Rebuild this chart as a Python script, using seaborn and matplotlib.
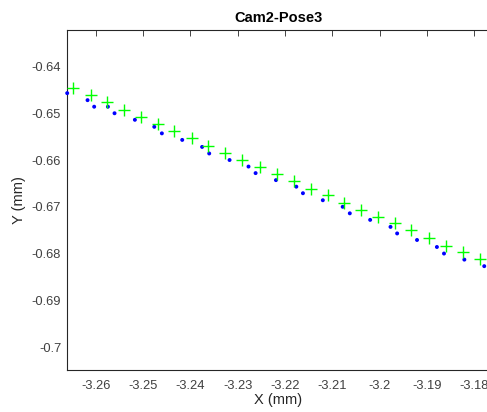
import numpy as np
import pandas as pd
import seaborn as sns
import matplotlib
matplotlib.use("Agg")
import matplotlib.pyplot as plt

# Green "+" points (reference positions)
ref_x = [-3.2647, -3.2610, -3.2575, -3.2539, -3.2504, -3.2469, -3.2434, -3.2397,
         -3.2362, -3.2327, -3.2290, -3.2253, -3.2217, -3.2181, -3.2146, -3.2110,
         -3.2075, -3.2039, -3.2003, -3.1968, -3.1933, -3.1896, -3.1859, -3.1823,
         -3.1788]
ref_y = [-0.6447, -0.6462, -0.6476, -0.6492, -0.6509, -0.6523, -0.6538, -0.6553,
         -0.6569, -0.6584, -0.6600, -0.6616, -0.6630, -0.6645, -0.6661, -0.6674,
         -0.6691, -0.6706, -0.6721, -0.6735, -0.6750, -0.6766, -0.6783, -0.6797,
         -0.6812]

# Blue dot points (measured positions)
meas_x = [-3.2660, -3.2617, -3.2603, -3.2574, -3.2560, -3.2517, -3.2476, -3.2460,
          -3.2417, -3.2375, -3.2360, -3.2317, -3.2277, -3.2262, -3.2219, -3.2176,
          -3.2162, -3.2120, -3.2078, -3.2063, -3.2020, -3.1977, -3.1963, -3.1921,
          -3.1879, -3.1864, -3.1821, -3.1779]
meas_y = [-0.6457, -0.6472, -0.6486, -0.6486, -0.6500, -0.6514, -0.6529, -0.6543,
          -0.6557, -0.6572, -0.6586, -0.6600, -0.6614, -0.6628, -0.6643, -0.6657,
          -0.6671, -0.6686, -0.6700, -0.6714, -0.6728, -0.6743, -0.6757, -0.6771,
          -0.6786, -0.6800, -0.6813, -0.6827]

x_ticks = [-3.26, -3.25, -3.24, -3.23, -3.22, -3.21, -3.2, -3.19, -3.18]
x_labels = ["-3.26", "-3.25", "-3.24", "-3.23", "-3.22", "-3.21", "-3.2", "-3.19", "-3.18"]
y_ticks = [-0.64, -0.65, -0.66, -0.67, -0.68, -0.69, -0.7]
y_labels = ["-0.64", "-0.65", "-0.66", "-0.67", "-0.68", "-0.69", "-0.7"]

sns.set_style("white")
plt.rcParams["font.family"] = ["Liberation Sans", "DejaVu Sans"]

fig = plt.figure(figsize=(4.87, 4.12), dpi=100)
ax = fig.add_axes([0.137, 0.102, 0.869, 0.824])

meas = pd.DataFrame({"x": meas_x, "y": meas_y})
ref = pd.DataFrame({"x": ref_x, "y": ref_y})

sns.scatterplot(data=meas, x="x", y="y", ax=ax, color="#0000ff", s=8,
                edgecolor="none", zorder=3, clip_on=False)
sns.scatterplot(data=ref, x="x", y="y", ax=ax, color="#00ff00", marker="+",
                s=80, linewidth=1.0, zorder=4)

ax.set_xlim(-3.2661, -3.1767)
ax.set_ylim(-0.7049, -0.6323)
ax.set_xticks(x_ticks)
ax.set_xticklabels(x_labels)
ax.set_yticks(y_ticks)
ax.set_yticklabels(y_labels)

gray = "#262626"
ax.tick_params(axis="both", direction="in", length=4, width=0.6, colors=gray,
               labelsize=9.3, labelcolor="#404040", top=True, right=False)
ax.tick_params(axis="x", pad=7)
ax.tick_params(axis="y", pad=4)
for side in ["left", "bottom", "top"]:
    ax.spines[side].set_color(gray)
    ax.spines[side].set_linewidth(0.8)
ax.spines["right"].set_visible(False)

ax.set_xlabel("X (mm)", fontsize=10.5, color="#262626", labelpad=1)
ax.set_ylabel("Y (mm)", fontsize=10.5, color="#262626", labelpad=4)
ax.set_title("Cam2-Pose3", fontsize=10.5, fontweight="bold", color="black", pad=6)

fig.savefig("out.png", dpi=100)
